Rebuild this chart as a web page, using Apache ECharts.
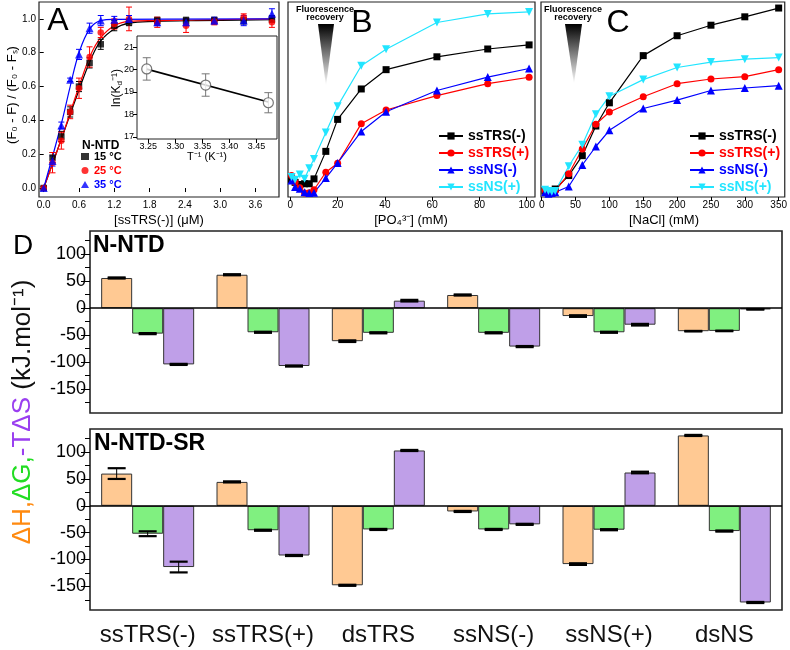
<!DOCTYPE html>
<html>
<head>
<meta charset="utf-8">
<script src="https://cdn.jsdelivr.net/npm/echarts@6/dist/echarts.min.js"></script>
<style>
  html, body { margin: 0; background: #fff; }
  #chart { width: 790px; height: 650px; }
</style>
</head>
<body>
<div id="chart"></div>
<script>
// ---- panel A: binding curves (x in uM) ----
const aX = [0, 0.15, 0.3, 0.45, 0.6, 0.78, 0.97, 1.2, 1.45, 1.93, 2.42, 2.9, 3.4, 3.88];
const a15 = [0, 0.18, 0.305, 0.45, 0.6, 0.74, 0.85, 0.96, 0.98, 0.99, 0.99, 0.99, 0.99, 1.0];
const a15Err = [0.01, 0.03, 0.03, 0.03, 0.03, 0.03, 0.03, 0.03, 0.02, 0.02, 0.02, 0.02, 0.02, 0.02];
const a25 = [0, 0.15, 0.28, 0.45, 0.59, 0.775, 0.92, 0.97, 1.0, 0.98, 0.96, 0.985, 1.01, 0.98];
const a25Err = [0.01, 0.06, 0.05, 0.04, 0.06, 0.06, 0.03, 0.03, 0.07, 0.03, 0.04, 0.02, 0.02, 0.03];
const a35 = [0, 0.16, 0.37, 0.64, 0.79, 0.945, 0.99, 0.995, 1.0, 0.98, 0.98, 0.99, 0.99, 1.03];
const a35Err = [0.01, 0.03, 0.02, 0.01, 0.03, 0.03, 0.03, 0.02, 0.02, 0.02, 0.02, 0.02, 0.03, 0.03];
const fit15 = [[0, 0], [0.3, 0.29], [0.6, 0.58], [0.8, 0.76], [0.97, 0.87], [1.2, 0.94], [1.45, 0.975], [1.9, 0.985], [2.6, 0.99], [3.9, 0.995]];
const fit25 = [[0, 0], [0.3, 0.29], [0.6, 0.6], [0.8, 0.79], [0.97, 0.89], [1.2, 0.96], [1.45, 0.985], [1.9, 0.99], [3.9, 1.0]];
const fit35 = [[0, 0], [0.3, 0.38], [0.45, 0.6], [0.6, 0.8], [0.78, 0.94], [0.97, 0.99], [1.2, 0.997], [3.9, 1.0]];
const aXTicks = [0, 0.6, 1.2, 1.8, 2.4, 3.0, 3.6];
const aYTicks = [0, 0.2, 0.4, 0.6, 0.8, 1.0];

// ---- inset: van't Hoff ----
const insX = [3.247, 3.356, 3.472];
const insY = [20.03, 19.31, 18.52];
const insErr = [0.5, 0.5, 0.45];
const insFit = [[3.247, 20.02], [3.472, 18.55]];
const insXTicks = [3.25, 3.30, 3.35, 3.40, 3.45];
const insYTicks = [17, 18, 19, 20, 21];

// ---- panel B: phosphate (mM), relative fluorescence ----
const bX = [0.5, 2, 4, 6, 8, 10, 15, 20, 30, 40.5, 62, 83.5, 101];
const bTrsMinus = [9, 7.5, 6.4, 6.8, 6.8, 9.3, 23.4, 39.8, 55.4, 65.3, 71.9, 75.9, 78.0];
const bTrsPlus = [11.0, 7.6, 4.7, 2.0, 2.2, 3.7, 12.7, 17.3, 37.6, 44.6, 52.0, 58.1, 61.4];
const bNsMinus = [8.5, 5.1, 4.2, 2.5, 2.0, 2.2, 9.7, 17.5, 33.6, 43.7, 54.6, 61.5, 65.9];
const bNsPlus = [10.2, 8.8, 11.5, 9.3, 14.7, 19.5, 33.1, 46.6, 67.3, 75.8, 89.5, 93.9, 94.9];
const bXTicks = [0, 20, 40, 60, 80, 100];

// ---- panel C: NaCl (mM) ----
const cX = [5, 10, 15, 20, 40, 60, 80, 100, 150, 200, 250, 300, 350];
const cTrsMinus = [3.1, 2.5, 3.1, 4.1, 11.0, 21.2, 36.4, 48.3, 72.5, 82.7, 88.1, 92.4, 96.9];
const cTrsPlus = [3.4, 2.4, 2.2, 3.1, 11.9, 24.6, 37.3, 43.6, 51.4, 58.1, 60.5, 61.7, 65.3];
const cNsMinus = [2.5, 1.7, 2.0, 2.4, 5.4, 16.4, 25.9, 34.2, 45.4, 49.7, 54.6, 55.9, 57.1];
const cNsPlus = [3.7, 3.1, 2.7, 3.1, 15.8, 26.8, 42.4, 51.7, 60.2, 66.4, 69.2, 70.7, 71.5];
const cXTicks = [0, 50, 100, 150, 200, 250, 300, 350];

// ---- panel D: thermodynamics (kJ/mol) ----
const dCats = ['ssTRS(-)', 'ssTRS(+)', 'dsTRS', 'ssNS(-)', 'ssNS(+)', 'dsNS'];
const ntdH = [56, 62, -61, 24.5, -14.5, -42.5];
const ntdG = [-47, -44.5, -45.5, -45.5, -44.5, -42];
const ntdS = [-104, -107, 14, -71, -30.5, -2];
const ntdHErr = [1, 1, 1.5, 1, 1.5, 0.5];
const ntdGErr = [1, 1, 1, 1, 1, 0.5];
const ntdSErr = [1, 1, 1.5, 1, 1.5, 0.5];
const srH = [60, 44.5, -148, -10.5, -108.5, 131];
const srG = [-52, -45.5, -44, -44, -44.5, -47];
const srS = [-114, -92.5, 103, -34.5, 62, -180];
const srHErr = [10, 1, 1, 1, 1.5, 1];
const srGErr = [4.5, 1, 1, 1, 1, 1];
const srSErr = [10, 1, 1, 1, 1.5, 1];
const dMajor = [-150, -100, -50, 0, 50, 100];
const dMinor = [-175, -125, -75, -25, 25, 75, 125];

const FONT = '"Liberation Sans", Arial, sans-serif';
const NARROW = '"Liberation Sans Narrow", "Liberation Sans", Arial, sans-serif';
const BLACK = '#000', RED = '#ff0000', BLUE = '#0000ff', CYAN = '#22e5ff';
const ORANGE = '#ffc993', GREEN = '#80f080', PURPLE = '#bf9fe8';

const chart = echarts.init(document.getElementById('chart'));

function zip(xs, ys) { return xs.map((x, i) => [x, ys[i]]); }

function valueAxis(gi, min, max, ticks, opts) {
  opts = opts || {};
  return {
    gridIndex: gi, type: 'value', min: min, max: max, position: opts.position,
    axisLine: { show: false }, splitLine: { show: false },
    axisTick: { show: !opts.noTicks, customValues: ticks, length: opts.tickLen || 4, lineStyle: { color: '#000' } },
    axisLabel: {
      show: !opts.noLabels, customValues: ticks, color: '#000', fontSize: opts.fontSize || 10,
      fontFamily: opts.font || NARROW, margin: opts.margin || 3,
      formatter: opts.fmt || (v => String(v))
    }
  };
}

// error bar helper: data [x, y, err]
function errorBars(xi, yi, data, color, opt) {
  opt = opt || {};
  const off = opt.offset || 0, w = opt.cap || 2.5, lw = opt.capWidth || 1;
  return {
    type: 'custom', xAxisIndex: xi, yAxisIndex: yi, data: data, z: opt.z || 3,
    renderItem: function (params, api) {
      const x = api.value(0), y = api.value(1), e = api.value(2);
      const lo = api.coord([x, y - e]), hi = api.coord([x, y + e]);
      const cx = lo[0] + off;
      return {
        type: 'group', children: [
          { type: 'line', shape: { x1: cx, y1: lo[1], x2: cx, y2: hi[1] }, style: { stroke: color, lineWidth: 1 } },
          { type: 'line', shape: { x1: cx - w, y1: lo[1], x2: cx + w, y2: lo[1] }, style: { stroke: color, lineWidth: lw } },
          { type: 'line', shape: { x1: cx - w, y1: hi[1], x2: cx + w, y2: hi[1] }, style: { stroke: color, lineWidth: lw } }
        ]
      };
    }
  };
}

function triple(xs, ys, es) { return xs.map((x, i) => [x, ys[i], es[i]]); }
function catTriple(ys, es) { return ys.map((y, i) => [i, y, es[i]]); }

const frame = { show: true, borderColor: '#222', borderWidth: 1.2, containLabel: false };

const series = [];

// panel A
[[a15, a15Err, fit15, BLACK, 'rect', '15 °C'],
 [a25, a25Err, fit25, RED, 'circle', '25 °C'],
 [a35, a35Err, fit35, BLUE, 'triangle', '35 °C']].forEach(function (s) {
  series.push({ type: 'line', xAxisIndex: 0, yAxisIndex: 0, data: s[2], smooth: 0.4, showSymbol: false,
    lineStyle: { color: s[3], width: 1.2 }, z: 2, silent: true });
  series.push(errorBars(0, 0, triple(aX, s[0], s[1]), s[3], { cap: 3 }));
  series.push({ type: 'scatter', name: s[5], xAxisIndex: 0, yAxisIndex: 0, data: zip(aX, s[0]),
    symbol: s[4], symbolSize: s[4] === 'triangle' ? 8 : 6.5, itemStyle: { color: s[3] }, z: 4 });
});

// inset
series.push({ type: 'line', xAxisIndex: 1, yAxisIndex: 1, data: insFit, showSymbol: false,
  lineStyle: { color: '#000', width: 1.6 }, z: 2 });
series.push(errorBars(1, 1, triple(insX, insY, insErr), '#777', { cap: 4 }));
series.push({ type: 'scatter', xAxisIndex: 1, yAxisIndex: 1, data: zip(insX, insY), symbol: 'circle',
  symbolSize: 10, itemStyle: { color: '#fff', borderColor: '#555', borderWidth: 1.2 }, z: 4 });

// panels B and C
const lineDefs = [['ssTRS(-)', BLACK, 'rect', 7], ['ssTRS(+)', RED, 'circle', 7],
                  ['ssNS(-)', BLUE, 'triangle', 8], ['ssNS(+)', CYAN, 'path://M0,0L10,0L5,9Z', 8]];
const bSets = [bTrsMinus, bTrsPlus, bNsMinus, bNsPlus];
const cSets = [cTrsMinus, cTrsPlus, cNsMinus, cNsPlus];
[[2, bX, bSets], [3, cX, cSets]].forEach(function (p) {
  lineDefs.forEach(function (d, i) {
    series.push({ type: 'line', name: d[0], xAxisIndex: p[0], yAxisIndex: p[0], data: zip(p[1], p[2][i]),
      symbol: d[2], symbolSize: d[3], showAllSymbol: true, lineStyle: { color: d[1], width: 1.2 },
      itemStyle: { color: d[1] }, z: 3 });
  });
});

// panel D
const zeroLine = { silent: true, symbol: 'none', label: { show: false },
  lineStyle: { color: '#000', width: 1.6, type: 'solid' }, data: [{ yAxis: 0 }] };
[[4, ntdH, ntdG, ntdS, ntdHErr, ntdGErr, ntdSErr], [5, srH, srG, srS, srHErr, srGErr, srSErr]].forEach(function (g) {
  const gi = g[0];
  const yi = gi;
  [[g[1], ORANGE], [g[2], GREEN], [g[3], PURPLE]].forEach(function (b, k) {
    const s = { type: 'bar', xAxisIndex: gi, yAxisIndex: yi, data: b[0], barWidth: 31, barGap: '0%',
      itemStyle: { color: b[1], borderColor: '#333', borderWidth: 1 }, z: 2 };
    if (k === 0) s.markLine = zeroLine;
    series.push(s);
  });
  [[g[1], g[4]], [g[2], g[5]], [g[3], g[6]]].forEach(function (b, k) {
    series.push(errorBars(gi, yi, catTriple(b[0], b[1]), '#000', { offset: (k - 1) * 31, cap: 9, capWidth: 2.2, z: 5 }));
  });
});

const legendText = { fontWeight: 'bold', fontFamily: FONT };
function legendItems(names, colors) { return names.map((n, i) => ({ name: n, textStyle: { color: colors[i] } })); }
const lineNames = lineDefs.map(d => d[0]);
const lineColors = lineDefs.map(d => d[1]);

const tri = (pts) => ({ type: 'polygon', shape: { points: pts }, silent: true,
  style: { fill: new echarts.graphic.LinearGradient(0, 0, 0, 1, [{ offset: 0, color: '#000' }, { offset: 1, color: '#fff' }]) } });
const txt = (x, y, text, font, extra) => Object.assign({ type: 'text', x: x, y: y, silent: true,
  style: Object.assign({ text: text, font: font, fill: '#000', align: 'center', verticalAlign: 'middle' }, extra || {}) });

const catAxis = (gi, showLabels) => ({
  gridIndex: gi, type: 'category', data: dCats, axisLine: { show: false },
  axisTick: { alignWithLabel: true, length: 10, lineStyle: { color: '#222', width: 1.5 } },
  axisLabel: { show: showLabels, interval: 0, fontSize: 24, color: '#111', fontFamily: FONT, margin: 13 }
});

chart.setOption({
  animation: false,
  backgroundColor: '#fff',
  grid: [
    Object.assign({ left: 39, top: 2, width: 240, height: 195 }, frame),
    Object.assign({ left: 137, top: 36, width: 140, height: 103 }, frame, { borderWidth: 1 }),
    Object.assign({ left: 288, top: 2, width: 247, height: 195 }, frame),
    Object.assign({ left: 541, top: 2, width: 246, height: 195 }, frame),
    Object.assign({ left: 90, top: 231, width: 692, height: 182 }, frame, { borderWidth: 1.6 }),
    Object.assign({ left: 90, top: 429, width: 692, height: 181 }, frame, { borderWidth: 1.6 })
  ],
  xAxis: [
    valueAxis(0, -0.08, 4.0, aXTicks, { fmt: v => v.toFixed(1) }),
    valueAxis(1, 3.229, 3.488, insXTicks, { fmt: v => v.toFixed(2), fontSize: 9 }),
    valueAxis(2, -1, 103.5, bXTicks),
    valueAxis(3, -1, 359, cXTicks),
    catAxis(4, false),
    catAxis(5, true)
  ],
  yAxis: [
    valueAxis(0, -0.053, 1.1, aYTicks, { fmt: v => v.toFixed(1) }),
    valueAxis(1, 16.9, 21.5, insYTicks, { fontSize: 9 }),
    valueAxis(2, 0, 100, [], { noTicks: true, noLabels: true }),
    valueAxis(3, 0, 100, [], { noTicks: true, noLabels: true }),
    valueAxis(4, -194, 143, dMajor, { fontSize: 18, font: FONT, tickLen: 9, margin: 4, position: 'left' }),
    valueAxis(5, -194, 143, dMajor, { fontSize: 18, font: FONT, tickLen: 9, margin: 4, position: 'left' }),
    valueAxis(4, -194, 143, dMinor, { noLabels: true, tickLen: 5, position: 'left' }),
    valueAxis(5, -194, 143, dMinor, { noLabels: true, tickLen: 5, position: 'left' })
  ],
  legend: [
    { data: legendItems(['15 °C', '25 °C', '35 °C'], [BLACK, RED, BLUE]), orient: 'vertical', left: 81, top: 151,
      itemWidth: 8, itemHeight: 7, itemGap: 3, padding: 0, selectedMode: false,
      textStyle: Object.assign({ fontSize: 11 }, legendText) },
    { data: legendItems(lineNames, lineColors), orient: 'vertical', left: 438, top: 129,
      itemWidth: 24, itemHeight: 9, itemGap: 3, padding: 0, selectedMode: false,
      textStyle: Object.assign({ fontSize: 14 }, legendText) },
    { data: legendItems(lineNames, lineColors), orient: 'vertical', left: 689, top: 129,
      itemWidth: 24, itemHeight: 9, itemGap: 3, padding: 0, selectedMode: false,
      textStyle: Object.assign({ fontSize: 14 }, legendText) }
  ],
  graphic: [
    txt(58, 21, 'A', '32px ' + FONT),
    txt(362, 23, 'B', '32px ' + FONT),
    txt(618, 23, 'C', '32px ' + FONT),
    txt(23, 246, 'D', '28px ' + FONT),
    txt(82, 146, 'N-NTD', 'bold 12px ' + FONT, { align: 'left' }),
    txt(93, 246, 'N-NTD', 'bold 23px ' + FONT, { align: 'left' }),
    txt(94, 444, 'N-NTD-SR', 'bold 23px ' + FONT, { align: 'left' }),
    // axis titles
    Object.assign(txt(12, 95, '(F₀ - F) / (F₀ - Fₛ)', '13px ' + NARROW), { rotation: Math.PI / 2 }),
    txt(159, 220, '[ssTRS(-)] (μM)', '13px ' + NARROW),
    txt(411, 220, '[PO₄³⁻] (mM)', '13px ' + NARROW),
    txt(664, 220, '[NaCl] (mM)', '13px ' + NARROW),
    txt(207, 157, 'T⁻¹ (K⁻¹)', '11px ' + NARROW),
    Object.assign(txt(117, 88, '{n|ln(K}{d|d}{n|⁻¹)}', '12px ' + NARROW, {
      rich: { n: { fontSize: 12, fontFamily: NARROW, lineHeight: 14 }, d: { fontSize: 8, fontFamily: NARROW, verticalAlign: 'bottom', lineHeight: 14 } }
    }), { rotation: Math.PI / 2 }),
    Object.assign(txt(23, 412, '{h|ΔH,}{g|ΔG,}{s|-TΔS}{k| (kJ.mol⁻¹)}', '26px ' + FONT, {
      rich: { h: { fill: '#ff8a10', fontSize: 26, fontFamily: FONT }, g: { fill: '#22dd22', fontSize: 26, fontFamily: FONT },
              s: { fill: '#9a3ff0', fontSize: 26, fontFamily: FONT }, k: { fill: '#111', fontSize: 26, fontFamily: FONT } }
    }), { rotation: Math.PI / 2 }),
    // fluorescence recovery cues
    txt(325, 10, 'Fluorescence', 'bold 9px ' + FONT),
    txt(325, 18, 'recovery', 'bold 9px ' + FONT),
    tri([[318, 24], [334, 24], [326, 86]]),
    txt(573, 10, 'Fluorescence', 'bold 9px ' + FONT),
    txt(573, 18, 'recovery', 'bold 9px ' + FONT),
    tri([[565, 24], [582, 24], [574, 84]])
  ],
  series: series
});
</script>
</body>
</html>
